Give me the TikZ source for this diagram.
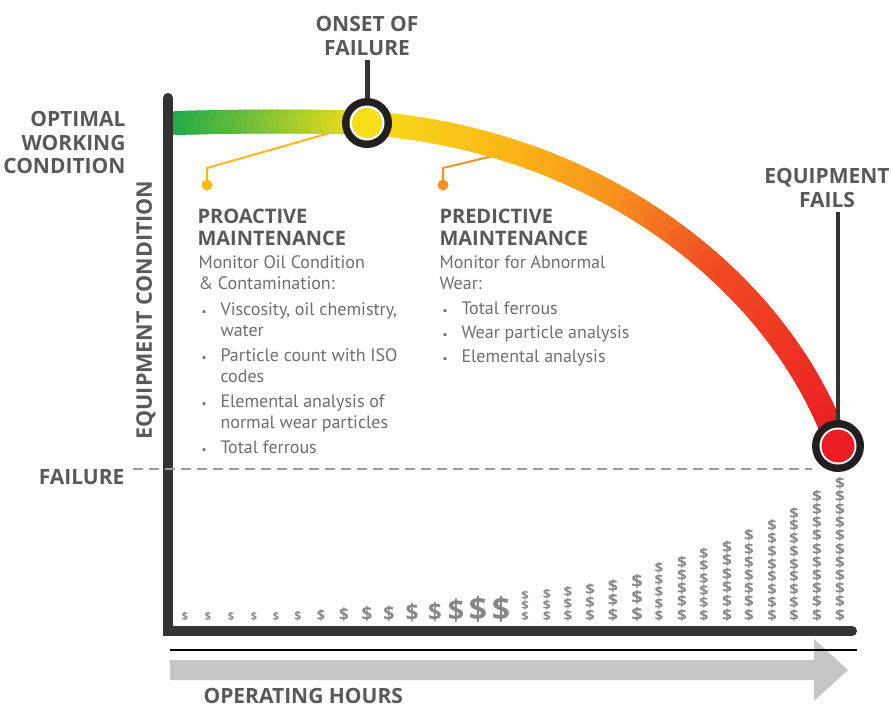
\documentclass[tikz,border=0pt]{standalone}
\usepackage{fontspec}
\setmainfont{PT Sans}
\newfontfamily\headfamily{Open Sans}
\usepackage{graphicx, tikz, tkz-euclide}

\definecolor{inkgray}{HTML}{58595B}
\definecolor{textgray}{HTML}{6D6E71}
\definecolor{axisgray}{HTML}{333333}
\definecolor{ringblack}{HTML}{231F20}
\definecolor{dollargray}{HTML}{87878A}
\definecolor{arrowgray}{HTML}{C6C6C6}
\definecolor{dashgray}{HTML}{9B9B9B}
\definecolor{cgreen}{HTML}{1BA94C}
\definecolor{cyellow}{HTML}{F6DF19}
\definecolor{camber}{HTML}{FBB117}
\definecolor{corange}{HTML}{F7931E}
\definecolor{cvermil}{HTML}{F04E23}
\definecolor{cred}{HTML}{EC1C24}
\definecolor{calloutyellow}{HTML}{FBB919}
\definecolor{calloutorange}{HTML}{F7931E}

\newcommand{\headfont}{\fontsize{21}{23.5}\selectfont\headfamily\bfseries}
\newcommand{\blockfont}{\fontsize{20}{22}\selectfont\headfamily\bfseries}
\newcommand{\bodyfont}{\fontsize{18}{21.5}\selectfont}
\newcommand{\bul}{\makebox[22pt][l]{\hspace{3pt}{\fontsize{11}{11}\selectfont\textbullet}}}
\newcommand{\cont}{\makebox[22pt]{}}

% colour of the falling part of the curve, #1 in percent
\newcommand{\bandcolor}[1]{%
  \ifnum#1<25\relax \pgfmathtruncatemacro\bandq{#1*4}\colorlet{bandc}{camber!\bandq!cyellow}%
  \else\ifnum#1<40\relax \pgfmathtruncatemacro\bandq{(#1-25)*100/15}\colorlet{bandc}{corange!\bandq!camber}%
  \else\ifnum#1<60\relax \pgfmathtruncatemacro\bandq{(#1-40)*5}\colorlet{bandc}{cvermil!\bandq!corange}%
  \else \pgfmathtruncatemacro\bandq{(#1-60)*2.5}\colorlet{bandc}{cred!\bandq!cvermil}%
  \fi\fi\fi}

\begin{document}
\begin{tikzpicture}[x=1pt, y=-1pt,
    band/.style={line width=24, line cap=round},
    dollar/.style={anchor=base, inner sep=0, dollargray}]
    \useasboundingbox (0,0) rectangle (891,707);
    \tkzDefPoints{168/98/T, 168/631/K, 852/631/E,
      176/123/S, 250/121/G1, 310/121/G2, 367/123/O,
      600/140/C1, 780/282/C2, 838/446/F,
      367/60/OT, 838/212/FT, 133/469/D0, 812/469/D1,
      207/185/Y0, 207/168/Y1, 330/133/Y2,
      443/185/R0, 443/168/R1, 497/155/R2,
      170/650/H0, 857/650/H1}

    \fill[arrowgray] (170,660) -- (814,660) -- (814,639) -- (848,670)
      -- (814,701) -- (814,680) -- (170,680) -- cycle;
    \draw[black, line width=1.5] (H0) -- (H1);

    \foreach \x/\s [count=\i] in {185/11, 208/11, 231/11, 254/11, 276/11, 298/12.3, 321/14.3, 344/16.9,
        367/18.8, 389/19.5, 412/22.7, 435/24, 456/28.6, 478/32, 501/32}
      \node[dollar, font=\fontsize{\s}{\s}\selectfont\headfamily\bfseries] (d\i) at (\x,620) {\$};
    \foreach \x/\n/\s/\p in {525/3/11.4/10.2, 547/3/12.3/11, 568/3/13.3/11.9, 590/3/14.3/12.75,
        613/3/15.6/14.45, 637/3/17.4/16.15, 659/5/13.3/11.9, 682/5/14.8/13.2,
        704/6/13.8/12.3, 727/6/15.2/13.6, 749/7/14.8/13.2, 772/8/14.3/12.75,
        794/9/14.3/12.75, 817/10/14.8/13.2, 840/11/14.8/13.2}{
      \foreach \k in {1,...,\n}
        \node[dollar, font=\fontsize{\s}{\s}\selectfont\headfamily\bfseries] (d\x-\k)
          at (\x,{620-(\k-1)*\p}) {\scalebox{1.15}[1]{\$}};
    }

    \draw[calloutyellow, line width=2] (Y0) -- (Y1) -- (Y2);
    \fill[calloutyellow] (Y0) circle (5.5);
    \draw[calloutorange, line width=2] (R0) -- (R1) -- (R2);
    \fill[calloutorange] (R0) circle (5.5);

    % curve, green to yellow
    \foreach \i in {0,...,29}{
      \pgfmathsetmacro\ta{\i/30}
      \pgfmathsetmacro\tb{(\i+1)/30}
      \pgfmathtruncatemacro\pc{(\i+0.5)/30*100}
      \path (S) .. controls (G1) and (G2) .. (O) coordinate[pos=\ta] (qa) coordinate[pos=\tb] (qb);
      \draw[band, cyellow!\pc!cgreen] (qa) -- (qb);
    }
    % curve, yellow to red
    \foreach \i in {0,...,79}{
      \pgfmathsetmacro\ta{\i/80}
      \pgfmathsetmacro\tb{(\i+1)/80}
      \pgfmathtruncatemacro\pc{(\i+0.5)/80*100}
      \path (O) .. controls (C1) and (C2) .. (F) coordinate[pos=\ta] (qa) coordinate[pos=\tb] (qb);
      \bandcolor{\pc}
      \draw[band, bandc] (qa) -- (qb);
    }

    \draw[axisgray, line width=10, line cap=round, line join=miter] (T) -- (K) -- (E);
    \draw[dashgray, line width=2, dash pattern=on 10pt off 6pt] (D0) -- (D1);

    \draw[axisgray, line width=5] (OT) -- (O);
    \draw[axisgray, line width=4.5] (FT) -- (F);
    \fill[ringblack] (O) circle (25);
    \fill[white] (O) circle (17.5);
    \fill[cyellow] (O) circle (15);
    \fill[ringblack] (F) circle (26);
    \fill[white] (F) circle (18.5);
    \fill[cred] (F) circle (16.5);

    \node[anchor=north, align=center, inkgray, font=\headfont] (onset) at (367,13) {ONSET OF\\FAILURE};
    \node[anchor=north east, align=right, inkgray, font=\headfont] (optimal) at (129,108) {OPTIMAL\\WORKING\\CONDITION};
    \node[anchor=north, align=center, inkgray, font=\headfont] (fails) at (827,165) {EQUIPMENT\\FAILS};
    \node[anchor=base east, inkgray, font=\headfont] (failure) at (128,484) {FAILURE};
    \node[anchor=base west, inkgray, font=\headfont] (hours) at (200,703) {OPERATING HOURS};
    \node[rotate=90, inkgray, font=\fontsize{21.5}{21.5}\selectfont\headfamily\bfseries] (cond) at (146,310) {EQUIPMENT CONDITION};

    \node[anchor=north west, align=left, inkgray, font=\blockfont] (pro) at (194,205) {PROACTIVE\\MAINTENANCE};
    \node[anchor=north west, align=left, textgray, font=\bodyfont] (probody) at (195,252)
      {Monitor Oil Condition\\\& Contamination:\\[4pt]
       \bul Viscosity, oil chemistry,\\\cont water\\[3pt]
       \bul Particle count with ISO\\\cont codes\\[3pt]
       \bul Elemental analysis of\\\cont normal wear particles\\[3pt]
       \bul Total ferrous};
    \node[anchor=north west, align=left, inkgray, font=\blockfont] (pred) at (436,205) {PREDICTIVE\\MAINTENANCE};
    \node[anchor=north west, align=left, textgray, font=\bodyfont] (predbody) at (436,252)
      {Monitor for Abnormal\\Wear:\\[3.5pt]
       \bul Total ferrous\\[2.5pt]
       \bul Wear particle analysis\\[2.5pt]
       \bul Elemental analysis};
\end{tikzpicture}
\end{document}
